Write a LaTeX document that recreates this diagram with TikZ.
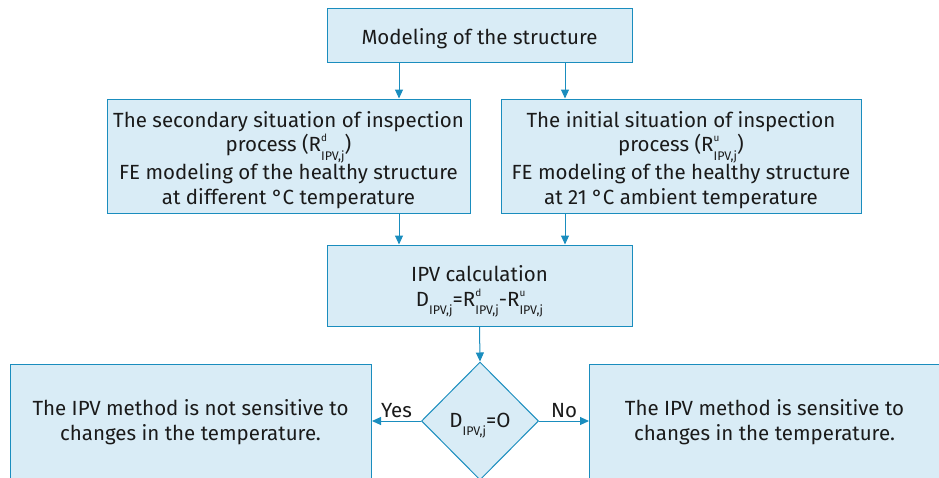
\documentclass[tikz,border=0pt]{standalone}
\usepackage{fontspec}
\setmainfont{Fira Sans}[Scale=1]
\usetikzlibrary{arrows.meta,shapes.geometric}
\definecolor{bfill}{HTML}{D9ECF6}
\definecolor{bline}{HTML}{1A8DBE}
\definecolor{txt}{HTML}{1A1A1A}
\newcommand{\SubSup}[3]{#1\rlap{\raisebox{0.95ex}{\fontsize{10}{10}\selectfont #2}}\raisebox{-0.75ex}{\fontsize{12.5}{12.5}\selectfont #3}}
\begin{document}
\begin{tikzpicture}[x=1pt,y=-1pt,
  box/.style={draw=bline,fill=bfill,line width=1pt,inner sep=0pt},
  arr/.style={draw=bline,line width=1pt,-{Triangle[length=9pt,width=8pt]}},
  lab/.style={text=txt,align=center,inner sep=0pt,font=\fontsize{20.5}{24.5}\selectfont}]
\useasboundingbox (0,0) rectangle (939,477);
\clip (0,0) rectangle (939,477);
\node[box,minimum width=305,minimum height=54,label={[lab,yshift=-4pt]center:Modeling of the structure}] (top) at (479.5,35) {};
\node[box,minimum width=363,minimum height=114,label={[lab,yshift=-4pt]center:{The secondary situation of inspection\\process (\SubSup{R}{d}{IPV,j})\\FE modeling of the healthy structure\\at different °C temperature}}] (left) at (288.5,156) {};
\node[box,minimum width=360,minimum height=114,label={[lab,yshift=-4pt]center:{The initial situation of inspection\\process (\SubSup{R}{u}{IPV,j})\\FE modeling of the healthy structure\\at 21 °C ambient temperature}}] (right) at (681,156) {};
\node[box,minimum width=305,minimum height=81,label={[lab,yshift=-6pt]center:{IPV calculation\\\SubSup{D}{}{IPV,j}=\SubSup{R}{d}{IPV,j}-\SubSup{R}{u}{IPV,j}}}] (ipv) at (479.5,285.5) {};
\node[box,diamond,minimum width=117,minimum height=118,aspect=1,label={[lab,yshift=-5pt]center:{\SubSup{D}{}{IPV,j}=O}}] (dec) at (480,421) {};
\node[box,minimum width=361,minimum height=170,anchor=north west] (yes) at (10,364) {};
\node[box,minimum width=351,minimum height=170,anchor=north west] (no) at (589,364) {};
\node[lab] (yest) at (190.5,422) {The IPV method is not sensitive to\\changes in the temperature.};
\node[lab] (not) at (764.5,422) {The IPV method is sensitive to\\changes in the temperature.};
\coordinate (t1) at (399,62);
\coordinate (t2) at (565,62);
\draw[arr] (t1) -- (t1 |- left.north);
\draw[arr] (t2) -- (t2 |- right.north);
\coordinate (m1) at (399,213);
\coordinate (m2) at (565,213);
\draw[arr] (m1) -- (m1 |- ipv.north);
\draw[arr] (m2) -- (m2 |- ipv.north);
\draw[arr] (ipv.south) -- (dec.north);
\draw[arr] (dec.west) -- (yes.east |- dec.west) node[lab,midway,above=3pt] {Yes};
\draw[arr] (dec.east) -- (no.west |- dec.east) node[lab,midway,above=3pt] {No};
\end{tikzpicture}
\end{document}
